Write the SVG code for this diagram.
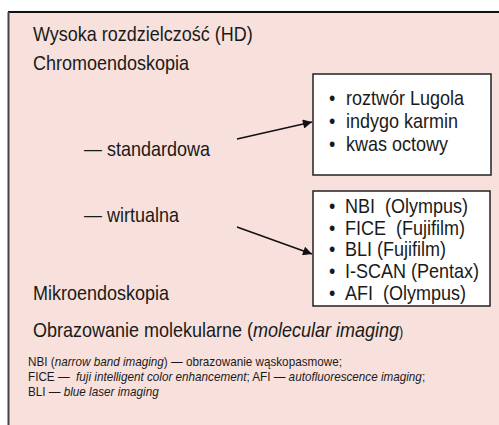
<svg xmlns="http://www.w3.org/2000/svg" width="499" height="425" viewBox="0 0 499 425">
<defs>
<style>
text{font-family:"Liberation Sans",Arial,sans-serif;fill:#1a1a1a;white-space:pre}
.big{font-size:20px}
.bul{font-size:20px}
.box{fill:#fff;stroke:#222;stroke-width:1.5}
.sm{font-size:13px}
.it{font-style:italic}
.conn{stroke:#111;stroke-width:1.5;fill:none}
</style>
<marker id="ah" viewBox="0 0 10 10" refX="10" refY="5" markerWidth="11" markerHeight="9" markerUnits="userSpaceOnUse" orient="auto">
<path d="M0,0L10,5L0,10z" fill="#111"/>
</marker>
</defs>
<rect x="0" y="0" width="499" height="425" fill="#fff"/>
<rect x="9" y="13" width="490" height="412" fill="#f8e1dc"/>
<line x1="8" y1="12" x2="499" y2="12" stroke="#111" stroke-width="2"/>
<line x1="8.5" y1="12" x2="8.5" y2="425" stroke="#444" stroke-width="2"/>
<g id="labels">
<text class="big" transform="translate(33,41) scale(0.9,1)">Wysoka rozdzielczość (HD)</text>
<text class="big" transform="translate(33,70) scale(0.9,1)">Chromoendoskopia</text>
<text class="big" transform="translate(84,156) scale(0.9,1)">— standardowa</text>
<text class="big" transform="translate(84,222) scale(0.9,1)">— wirtualna</text>
<text class="big" transform="translate(33,300) scale(0.9,1)">Mikroendoskopia</text>
<text class="big" transform="translate(33,337) scale(0.9,1)">Obrazowanie molekularne (<tspan class="it">molecular imaging</tspan><tspan font-size="14">)</tspan></text>
</g>
<g id="box1">
<rect class="box" x="313" y="74" width="178" height="101"/>
<text class="bul" transform="translate(329,105) scale(0.9,1)">•</text>
<text class="big" transform="translate(346,105) scale(0.9,1)">roztwór Lugola</text>
<text class="bul" transform="translate(329,128) scale(0.9,1)">•</text>
<text class="big" transform="translate(346,128) scale(0.9,1)">indygo karmin</text>
<text class="bul" transform="translate(329,151) scale(0.9,1)">•</text>
<text class="big" transform="translate(346,151) scale(0.9,1)">kwas octowy</text>
</g>
<g id="box2">
<rect class="box" x="313" y="191" width="177" height="115"/>
<text class="bul" transform="translate(329,213) scale(0.9,1)">•</text>
<text class="big" transform="translate(345,213) scale(0.9,1)">NBI  (Olympus)</text>
<text class="bul" transform="translate(329,234.5) scale(0.9,1)">•</text>
<text class="big" transform="translate(345,234.5) scale(0.9,1)">FICE  (Fujifilm)</text>
<text class="bul" transform="translate(329,256) scale(0.9,1)">•</text>
<text class="big" transform="translate(345,256) scale(0.9,1)">BLI (Fujifilm)</text>
<text class="bul" transform="translate(329,278) scale(0.9,1)">•</text>
<text class="big" transform="translate(345,278) scale(0.9,1)">I-SCAN (Pentax)</text>
<text class="bul" transform="translate(329,300) scale(0.9,1)">•</text>
<text class="big" transform="translate(345,300) scale(0.9,1)">AFI  (Olympus)</text>
</g>
<g id="connectors">
<line class="conn" x1="237" y1="139" x2="312" y2="122" marker-end="url(#ah)"/>
<line class="conn" x1="237" y1="227" x2="312" y2="254" marker-end="url(#ah)"/>
</g>
<g id="footnote">
<text class="sm" transform="translate(28,366) scale(0.9,1)">NBI (<tspan class="it">narrow band imaging</tspan>) — obrazowanie wąskopasmowe;</text>
<text class="sm" transform="translate(28,381) scale(0.9,1)">FICE —  <tspan class="it">fuji intelligent color enhancement</tspan>; AFI — <tspan class="it">autofluorescence imaging</tspan>;</text>
<text class="sm" transform="translate(28,396) scale(0.9,1)">BLI — <tspan class="it">blue laser imaging</tspan></text>
</g>
</svg>
